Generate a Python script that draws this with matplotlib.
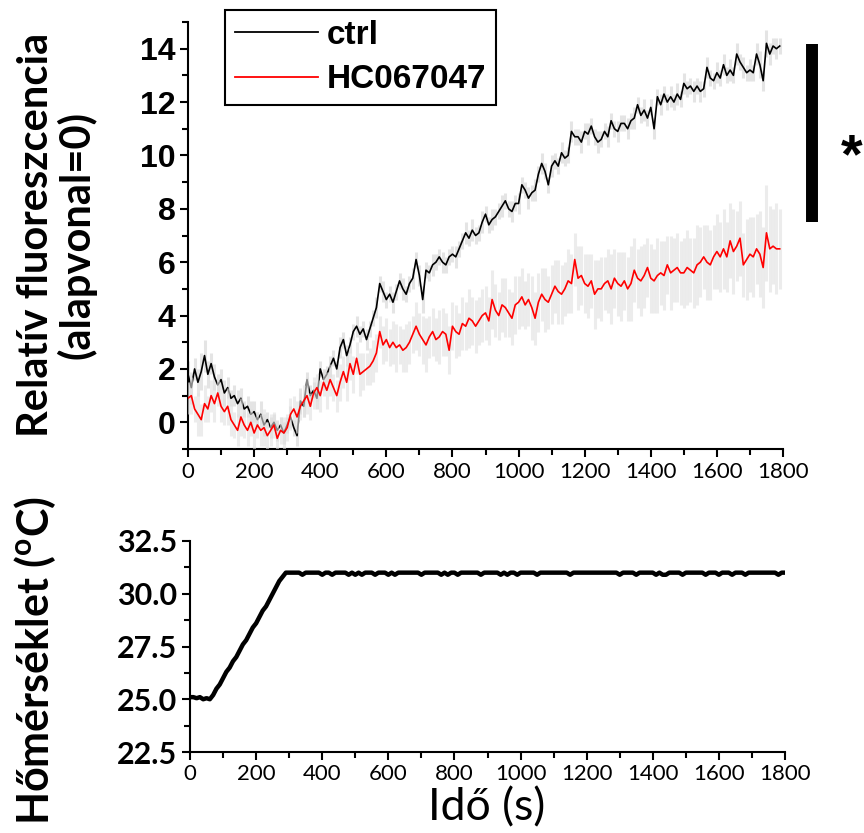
import numpy as np
import matplotlib
matplotlib.use('Agg')
import matplotlib.pyplot as plt
from matplotlib.lines import Line2D
from matplotlib.ticker import MultipleLocator

plt.rcParams['mathtext.fontset'] = 'custom'
plt.rcParams['mathtext.rm'] = 'Lato:bold'

# ---------------- data ----------------
time_fl = np.arange(0, 1800, 10)  # s, 10-s sampling of the fluorescence traces

ctrl = [
    1.8, 1.3, 2.0, 1.5, 1.9, 2.5, 1.8, 2.2, 1.7, 1.4,
    1.6, 1.1, 1.3, 0.9, 1.0, 0.7, 0.9, 0.5, 0.6, 0.3,
    0.4, 0.1, 0.3, -0.1, 0.1, -0.2, 0.0, -0.3, -0.1, -0.4,
    -0.1, 0.2, -0.2, -0.5, 0.8, 0.6, 1.6, 1.0, 1.2, 0.9,
    2.0, 1.6, 1.8, 2.1, 2.4, 2.0, 2.8, 3.1, 2.5, 2.9,
    3.4, 3.6, 3.3, 3.5, 3.1, 3.5, 3.9, 4.3, 5.2, 4.9,
    4.6, 4.8, 4.5, 4.9, 5.3, 5.0, 4.8, 5.2, 5.4, 6.1,
    5.5, 4.6, 5.7, 5.6, 5.9, 6.0, 6.2, 6.0, 5.9, 6.2,
    6.3, 6.2, 6.5, 6.8, 7.1, 6.9, 7.2, 7.0, 7.1, 7.5,
    7.8, 7.4, 7.6, 7.7, 7.9, 8.1, 8.3, 8.0, 7.9, 8.2,
    8.2, 8.9, 8.7, 8.4, 8.6, 8.7, 9.3, 9.7, 9.4, 8.9,
    9.6, 9.8, 9.6, 10.1, 9.9, 10.0, 10.9, 10.7, 10.7, 10.5,
    10.9, 10.8, 11.1, 10.7, 10.5, 10.6, 10.9, 10.7, 11.3, 11.0,
    10.9, 11.2, 11.2, 11.0, 11.3, 11.4, 11.9, 11.5, 11.7, 11.4,
    11.8, 11.0, 12.2, 11.9, 12.3, 12.0, 12.2, 12.0, 12.3, 12.1,
    12.7, 12.5, 12.6, 12.4, 12.6, 12.4, 12.5, 13.3, 12.9, 12.8,
    13.1, 12.9, 13.4, 13.0, 13.2, 13.0, 13.8, 13.5, 13.3, 13.1,
    13.2, 13.1, 13.8, 13.4, 12.8, 14.2, 13.8, 14.1, 14.0, 14.1,
]
ctrl_err = [
    0.5, 0.6, 0.4, 0.5, 0.7, 0.6, 0.5, 0.4, 0.5, 0.4,
    0.4, 0.5, 0.4, 0.3, 0.4, 0.5, 0.4, 0.3, 0.4, 0.5,
    0.4, 0.3, 0.5, 0.4, 0.3, 0.4, 0.3, 0.4, 0.3, 0.4,
    0.3, 0.4, 0.3, 0.4, 0.5, 0.4, 0.3, 0.4, 0.3, 0.4,
    0.3, 0.4, 0.3, 0.4, 0.3, 0.3, 0.4, 0.3, 0.4, 0.3,
    0.3, 0.4, 0.3, 0.3, 0.4, 0.3, 0.3, 0.4, 0.3, 0.4,
    0.3, 0.3, 0.4, 0.3, 0.3, 0.4, 0.3, 0.3, 0.4, 0.3,
    0.4, 0.5, 0.3, 0.3, 0.4, 0.3, 0.3, 0.4, 0.3, 0.3,
    0.3, 0.4, 0.3, 0.3, 0.4, 0.3, 0.4, 0.3, 0.3, 0.4,
    0.3, 0.3, 0.4, 0.3, 0.3, 0.4, 0.3, 0.3, 0.4, 0.3,
    0.4, 0.3, 0.3, 0.4, 0.3, 0.4, 0.3, 0.4, 0.3, 0.3,
    0.4, 0.3, 0.3, 0.4, 0.3, 0.3, 0.4, 0.3, 0.3, 0.4,
    0.3, 0.4, 0.3, 0.3, 0.4, 0.3, 0.3, 0.4, 0.3, 0.3,
    0.4, 0.3, 0.3, 0.4, 0.3, 0.4, 0.3, 0.3, 0.4, 0.3,
    0.3, 0.4, 0.3, 0.4, 0.3, 0.3, 0.4, 0.3, 0.4, 0.3,
    0.4, 0.3, 0.3, 0.4, 0.3, 0.4, 0.3, 0.4, 0.3, 0.3,
    0.4, 0.3, 0.4, 0.3, 0.4, 0.3, 0.4, 0.3, 0.4, 0.3,
    0.4, 0.3, 0.4, 0.5, 0.4, 0.5, 0.4, 0.3, 0.4, 0.3,
]
hc = [
    0.9, 1.0, 0.5, 0.3, 0.1, 0.7, 0.5, 1.0, 0.7, 1.1,
    0.6, 0.4, 0.6, 0.1, -0.1, -0.3, 0.2, -0.1, -0.3, 0.0,
    -0.4, -0.1, -0.3, -0.2, -0.5, -0.3, -0.1, -0.6, -0.3, -0.4,
    -0.2, 0.3, 0.5, 0.2, 0.6, 0.8, 1.0, 0.6, 1.1, 1.3,
    1.0, 1.5, 1.2, 1.6, 1.3, 1.0, 1.5, 1.9, 1.5, 2.2,
    1.8, 2.4, 1.8, 1.9, 2.0, 2.1, 2.3, 2.6, 3.4, 2.9,
    3.1, 2.8, 3.0, 2.8, 2.9, 2.7, 2.8, 3.0, 3.3, 3.6,
    3.3, 3.1, 2.9, 3.2, 3.4, 3.1, 3.2, 3.4, 3.3, 2.7,
    3.6, 3.4, 3.3, 3.7, 3.6, 3.9, 3.8, 3.6, 3.8, 4.0,
    4.1, 3.8, 4.6, 4.2, 4.0, 4.4, 4.3, 4.1, 3.9, 4.4,
    4.5, 4.7, 4.4, 4.6, 4.3, 3.9, 4.5, 4.8, 4.6, 4.5,
    4.8, 5.1, 4.9, 4.8, 5.0, 5.3, 5.2, 6.1, 5.4, 5.5,
    5.2, 5.1, 5.3, 4.8, 5.0, 5.0, 5.2, 5.3, 5.0, 5.4,
    5.2, 5.1, 5.3, 5.0, 5.2, 5.7, 5.4, 5.3, 5.5, 5.8,
    5.4, 5.3, 5.5, 5.6, 5.5, 5.9, 5.6, 5.7, 5.8, 5.6,
    5.6, 5.8, 5.7, 5.6, 5.9, 6.0, 6.2, 6.0, 5.9, 6.2,
    6.4, 6.2, 6.5, 6.2, 6.8, 6.4, 6.6, 6.9, 5.9, 6.1,
    6.3, 6.2, 6.5, 6.3, 5.8, 7.1, 6.5, 6.6, 6.5, 6.5,
]
hc_err = [
    0.6, 0.7, 0.5, 0.8, 0.6, 0.7, 0.5, 0.6, 0.7, 0.5,
    0.6, 0.5, 0.7, 0.6, 0.5, 0.6, 0.7, 0.5, 0.6, 0.5,
    0.6, 0.5, 0.6, 0.7, 0.5, 0.6, 0.5, 0.6, 0.5, 0.6,
    0.5, 0.6, 0.5, 0.6, 0.5, 0.6, 0.7, 0.5, 0.6, 0.5,
    0.6, 0.5, 0.7, 0.6, 0.5, 0.6, 0.7, 0.6, 0.7, 0.6,
    0.7, 0.6, 0.8, 0.7, 0.6, 0.7, 0.8, 0.7, 0.6, 0.7,
    0.8, 0.7, 0.8, 0.9, 0.7, 0.8, 0.9, 0.8, 0.7, 0.9,
    0.8, 0.9, 1.0, 0.8, 0.9, 0.8, 1.0, 0.9, 0.8, 0.9,
    0.9, 1.0, 0.8, 1.0, 0.9, 1.1, 0.9, 1.0, 0.9, 1.0,
    1.0, 0.9, 1.1, 1.0, 0.9, 1.0, 1.1, 0.9, 1.0, 1.1,
    1.0, 1.1, 0.9, 1.0, 1.2, 1.0, 1.1, 1.0, 1.2, 1.0,
    1.1, 1.0, 1.2, 1.1, 1.0, 1.2, 1.1, 1.0, 1.2, 1.1,
    1.1, 1.2, 1.0, 1.3, 1.1, 1.2, 1.0, 1.2, 1.3, 1.1,
    1.2, 1.3, 1.1, 1.2, 1.4, 1.2, 1.1, 1.3, 1.2, 1.1,
    1.3, 1.2, 1.4, 1.2, 1.3, 1.1, 1.4, 1.2, 1.3, 1.2,
    1.3, 1.4, 1.2, 1.3, 1.5, 1.3, 1.2, 1.4, 1.3, 1.2,
    1.4, 1.3, 1.5, 1.3, 1.4, 1.6, 1.3, 1.4, 1.2, 1.5,
    1.4, 1.5, 1.3, 1.6, 1.5, 1.8, 1.6, 1.4, 1.7, 1.5,
]

time_temp = np.arange(0, 1810, 10)  # s
temp = [
    25.1, 25.1, 25.05, 25.1, 25.0, 25.05, 25.0, 25.2, 25.5, 25.7,
    26.0, 26.3, 26.5, 26.8, 27.0, 27.3, 27.6, 27.8, 28.1, 28.4,
    28.6, 28.9, 29.2, 29.4, 29.7, 30.0, 30.3, 30.6, 30.8, 31.0,
    31.0, 31.0, 31.0, 31.0, 30.9, 31.0, 31.0, 31.0, 31.0, 31.0,
    30.9, 31.0, 31.0, 30.9, 31.0, 31.0, 31.0, 31.0, 30.9, 31.0,
    30.9, 31.0, 30.9, 31.0, 31.0, 31.0, 30.9, 31.0, 31.0, 31.0,
    30.9, 31.0, 30.9, 31.0, 31.0, 31.0, 31.0, 31.0, 31.0, 31.0,
    30.9, 31.0, 31.0, 31.0, 31.0, 31.0, 30.9, 31.0, 30.9, 31.0,
    31.0, 30.9, 31.0, 31.0, 31.0, 31.0, 31.0, 31.0, 30.9, 31.0,
    31.0, 31.0, 31.0, 31.0, 30.9, 31.0, 30.9, 31.0, 31.0, 30.9,
    31.0, 31.0, 31.0, 31.0, 31.0, 30.9, 31.0, 31.0, 31.0, 31.0,
    31.0, 31.0, 31.0, 31.0, 31.0, 30.9, 31.0, 31.0, 31.0, 31.0,
    31.0, 31.0, 31.0, 31.0, 31.0, 31.0, 31.0, 31.0, 31.0, 31.0,
    30.9, 31.0, 31.0, 31.0, 31.0, 30.9, 31.0, 31.0, 31.0, 31.0,
    31.0, 30.9, 31.0, 30.9, 30.9, 31.0, 31.0, 31.0, 31.0, 30.9,
    31.0, 31.0, 31.0, 31.0, 31.0, 31.0, 30.9, 31.0, 31.0, 31.0,
    30.9, 31.0, 31.0, 31.0, 30.9, 31.0, 31.0, 31.0, 30.9, 31.0,
    31.0, 31.0, 31.0, 31.0, 31.0, 31.0, 31.0, 31.0, 30.9, 31.0,
    31.0,
]

series_labels = ['ctrl', 'HC067047']
x_ticks = [0, 200, 400, 600, 800, 1000, 1200, 1400, 1600, 1800]
fl_ticks = [0, 2, 4, 6, 8, 10, 12, 14]
temp_ticks = [22.5, 25.0, 27.5, 30.0, 32.5]

# ---------------- figure ----------------
W, H = 864, 833
fig = plt.figure(figsize=(W / 100, H / 100), dpi=100)

def box(l, t, r, b):
    return [l / W, 1 - b / H, (r - l) / W, (b - t) / H]

ax1 = fig.add_axes(box(188, 22, 783, 449))
ax2 = fig.add_axes(box(190, 541, 785, 752))

calib = 'Lato'
arial = 'Liberation Sans'

ctrl_a = np.array(ctrl); ctrl_e = np.array(ctrl_err)
hc_a = np.array(hc); hc_e = np.array(hc_err)

ax1.vlines(time_fl, ctrl_a - ctrl_e, ctrl_a + ctrl_e, color='#e4e4e4', lw=2.2, zorder=1)
ax1.plot(time_fl, ctrl_a, color='black', lw=1.2, zorder=2)
ax1.vlines(time_fl, hc_a - hc_e, hc_a + hc_e, color='#e0e0e0', lw=2.2, alpha=0.6, zorder=3)
ax1.plot(time_fl, hc_a, color='#ff0000', lw=1.2, zorder=4)

ax1.set_xlim(0, 1800)
ax1.set_ylim(-1, 15)
ax1.set_xticks(x_ticks)
ax1.set_xticklabels([str(v) for v in x_ticks], fontsize=16, family=calib)
ax1.set_yticks(fl_ticks)
ax1.set_yticklabels([str(v) for v in fl_ticks], fontsize=23, family=arial, fontweight='bold')
ax1.xaxis.set_minor_locator(MultipleLocator(100))
ax1.yaxis.set_minor_locator(MultipleLocator(1))

ax2.plot(time_temp, temp, color='black', lw=3.2, zorder=2)
ax2.set_xlim(0, 1800)
ax2.set_ylim(22.5, 32.5)
ax2.set_xticks(x_ticks)
ax2.set_xticklabels([str(v) for v in x_ticks], fontsize=16, family=calib)
ax2.set_yticks(temp_ticks)
ax2.set_yticklabels([f'{v:.1f}' for v in temp_ticks], fontsize=22, family=calib, fontweight='bold')
ax2.xaxis.set_minor_locator(MultipleLocator(100))
ax2.yaxis.set_minor_locator(MultipleLocator(1.25))

for ax in (ax1, ax2):
    for s in ('top', 'right'):
        ax.spines[s].set_visible(False)
    for s in ('left', 'bottom'):
        ax.spines[s].set_linewidth(1.5)
    ax.tick_params(which='major', direction='out', length=6, width=1.5, pad=3)
    ax.tick_params(which='minor', direction='out', length=4, width=1.5)

# axis labels
fig.text(57 / W, 1 - 235 / H, 'Relatív fluoreszcencia\n(alapvonal=0)', rotation=90,
         ha='center', va='center', fontsize=30, fontweight='bold', family=calib,
         linespacing=1.05)
fig.text(35 / W, 1 - 660 / H, 'Hőmérséklet ($\\mathregular{^{o}}$C)', rotation=90,
         ha='center', va='center', fontsize=31, fontweight='bold', family=calib)
fig.text(487 / W, 1 - 808 / H, 'Idő (s)', ha='center', va='center', fontsize=32,
         family=calib)

# legend
handles = [Line2D([], [], color='black', lw=1.3), Line2D([], [], color='#ff0000', lw=1.3)]
leg = ax1.legend(handles, series_labels, loc='upper left', bbox_to_anchor=(0.062, 1.028),
                 borderaxespad=0, frameon=True, fancybox=False, edgecolor='black',
                 framealpha=1, handlelength=2.5, handletextpad=0.25, labelspacing=0.4,
                 borderpad=0.3,
                 prop={'family': arial, 'weight': 'bold', 'size': 24})
leg.get_frame().set_linewidth(1.5)

# significance bar
fig.add_artist(Line2D([812 / W, 812 / W], [1 - 44 / H, 1 - 222 / H], color='black',
                      lw=8.6, solid_capstyle='butt'))
fig.text(852 / W, 1 - 158 / H, '*', ha='center', va='center', fontsize=40,
         fontweight='bold', family=arial)

fig.savefig('out.png', dpi=100)
